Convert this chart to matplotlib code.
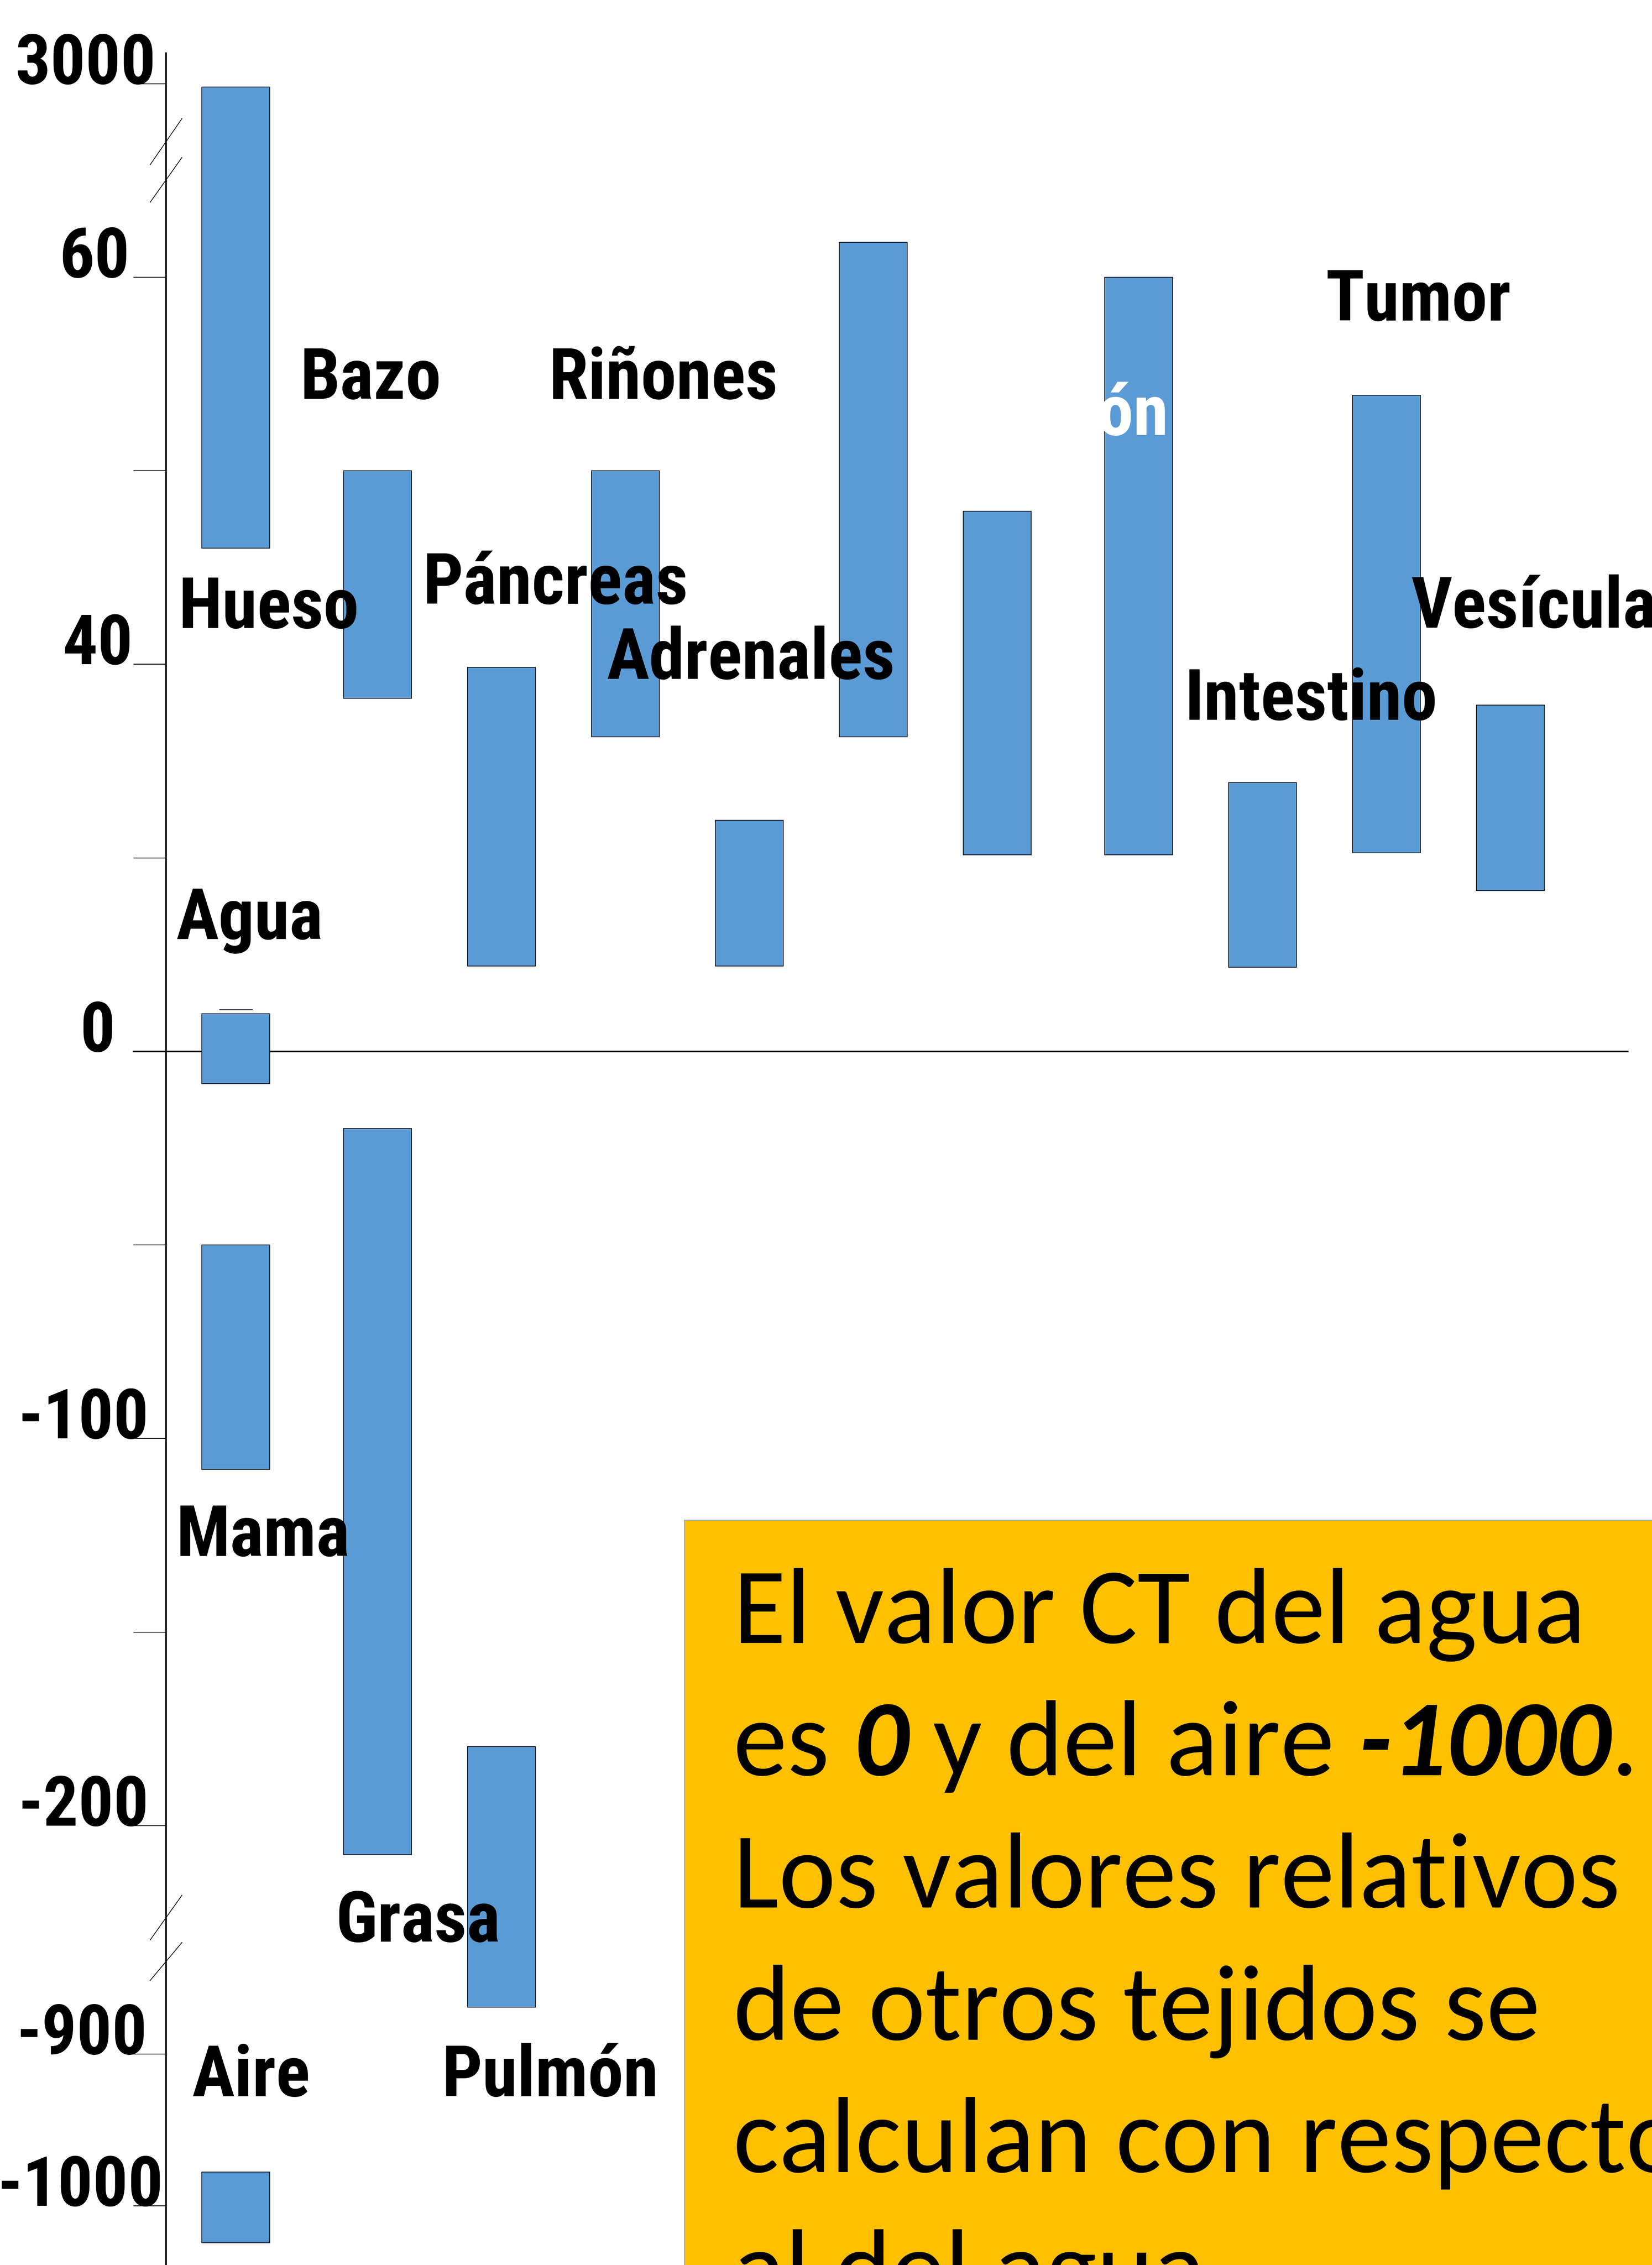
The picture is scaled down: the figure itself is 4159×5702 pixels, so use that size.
import numpy as np
import matplotlib
matplotlib.use("Agg")
import matplotlib.pyplot as plt
from matplotlib.patches import Rectangle
from matplotlib.font_manager import FontProperties, fontManager, weight_dict

# CT number ranges (HU) for each tissue, drawn as floating bars
tissue = ["Hueso", "Bazo", "Páncreas", "Riñones", "Adrenales", "", "", "Corazón",
          "Intestino", "Tumor", "Vesícula", "Agua", "Mama", "Grasa", "Pulmón", "Aire"]
column = [0, 1, 2, 3, 4, 5, 6, 7, 8, 9, 10, 0, 0, 1, 2, 0]
hu_low = [46, 36.5, 8.8, 32.5, 8.8, 32.5, 20.3, 20.3, 8.7, 20.5, 16.6,
          -8.3, -108, -207.5, -790, -1024.5]
hu_high = [2900, 50, 39.7, 50, 23.9, 61.8, 47.9, 60, 27.8, 53.9, 35.8,
           3.9, -50, -19.9, -179.6, -977.7]
water_mark = 4.3

tick_values = [3000, 60, 50, 40, 20, 0, -50, -100, -150, -200, -900, -1000]
tick_labels = ["3000", "60", "", "40", "", "0", "", "-100", "", "-200", "-900", "-1000"]

note_lines = ["El valor CT del agua",
              None,
              "Los valores relativos",
              "de otros tejidos se",
              "calculan con respecto",
              "al del agua."]
note_line2 = [("es", "r"), ("0", "bi"), ("y del aire", "r"), ("-1000", "bi"), (".", "r")]

# broken axis: piecewise-linear mapping HU -> slot (one slot per tick step)
hu_knots = np.array([-1100, -1000, -900, -880, -220, -200, -100, 0, 40, 60, 65, 3000, 4000])
slot_knots = np.array([-6.748, -5.964, -5.18, -5.023, -4.4, -4, -2, 0, 2, 4, 4.5, 5, 5.17])


def forward(v):
    return np.interp(v, hu_knots, slot_knots)


def inverse(s):
    return np.interp(s, slot_knots, hu_knots)


# label anchors (x in column units, baseline in slots)
label_pos = {
    "Hueso": (-0.462, 2.187), "Bazo": (0.520, 3.372), "Riñones": (2.524, 3.372),
    "Páncreas": (1.510, 2.312), "Adrenales": (2.991, 1.924), "Tumor": (8.795, 3.775),
    "Vesícula": (9.482, 2.190), "Intestino": (7.657, 1.713), "Agua": (-0.483, 0.581),
    "Mama": (-0.483, -2.606), "Grasa": (0.807, -4.599), "Aire": (-0.355, -5.397),
    "Pulmón": (1.662, -5.397), "Corazón": (7.525, 3.185),
}
tick_label_x = [-0.645, -0.857, 0, -0.832, 0, -0.972, 0, -0.704, 0, -0.704, -0.716, -0.585]

W, H = 4159, 5702
BLUE = "#5B9BD5"


def weight_num(w):
    return weight_dict.get(w, 400) if isinstance(w, str) else int(w)


# bold narrow face for labels: pick the actual bold file so the weight is honoured
lab_font = tick_font = None
for fam in ["Archivo Narrow", "Roboto Condensed", "PT Sans Narrow", "Liberation Sans"]:
    faces = [f for f in fontManager.ttflist
             if f.name == fam and f.style == "normal" and weight_num(f.weight) >= 600]
    if faces:
        face = min(faces, key=lambda f: abs(weight_num(f.weight) - 700))
        lab_font = FontProperties(fname=face.fname, size=129)
        tick_font = FontProperties(fname=face.fname, size=126)
        break
if lab_font is None:
    lab_font = FontProperties(family="DejaVu Sans", weight="bold", size=115)
    tick_font = lab_font

installed = {f.name for f in fontManager.ttflist}
box_family = next(f for f in ["Carlito", "Calibri", "Lato"] if f in installed)

fig = plt.figure(figsize=(W / 100, H / 100), dpi=100)
fig.patch.set_facecolor("white")
ax = fig.add_axes([418 / W, 0, 1 - 418 / W, 1 - 134 / H])
ax.set_yscale("function", functions=(forward, inverse))
ax.set_xlim(-0.564, 11.429)
ax.set_ylim(inverse(-6.27), inverse(5.157))

col = np.array(column)
xpos = col + 0.143 * (col >= 1) + 0.143 * (col >= 7)
low = np.array(hu_low)
high = np.array(hu_high)
ax.bar(xpos, high - low, bottom=low, width=0.548, color=BLUE,
       edgecolor="black", linewidth=1.2, zorder=3)
ax.hlines(water_mark, xpos[11] - 0.134, xpos[11] + 0.134, color="black",
          linewidth=1.4, zorder=3)

# zero line
ax.hlines(0, -0.832, 11.24, color="black", linewidth=2.9, clip_on=False, zorder=1)

for side in ["top", "right", "bottom"]:
    ax.spines[side].set_visible(False)
ax.spines["left"].set_linewidth(2.9)
ax.set_xticks([])
ax.set_yticks(tick_values)
ax.set_yticklabels([])
ax.yaxis.set_minor_locator(matplotlib.ticker.NullLocator())
ax.tick_params(axis="y", direction="out", length=59, width=1.44, color="black")

for v, txt, tx in zip(tick_values, tick_labels, tick_label_x):
    if txt:
        ax.text(tx, v, txt, ha="right", va="baseline", fontproperties=tick_font,
                clip_on=False)

# axis break marks
for s0, s1 in [(4.581, 4.819), (4.387, 4.618), (-4.591, -4.360), (-4.800, -4.604)]:
    ax.plot([-0.692, -0.436], inverse(np.array([s0, s1])), color="black",
            linewidth=1.3, clip_on=False, zorder=4)

for name in tissue:
    if not name:
        continue
    lx, ls = label_pos[name]
    white = name == "Corazón"
    ax.text(lx, inverse(ls), name, ha="right" if white else "left", va="baseline",
            fontproperties=lab_font, color="white" if white else "black", zorder=5)

# note box
fig.add_artist(Rectangle((1723 / W, -0.05), 1.0, 1 - 3827 / H + 0.05,
                         transform=fig.transFigure, facecolor="#FFC000",
                         edgecolor="#8FAADC", linewidth=1.5, zorder=6))

renderer = fig.canvas.get_renderer()


def text_width(s, **kw):
    t = fig.text(0, 0, s, family=box_family, **kw)
    w = t.get_window_extent(renderer).width
    t.remove()
    return w


fit = sum(text_width(s, fontsize=100) for s in note_lines[0:1] + note_lines[2:4])
fs = 100 * (2124 + 2263 + 2023) / fit
space = text_width("x x", fontsize=fs) - text_width("xx", fontsize=fs)
styles = {"r": dict(), "bi": dict(fontweight="bold", fontstyle="italic")}

x0 = 1846
for i, line in enumerate(note_lines):
    yb = 1 - (4136 + 333 * i) / H
    if line is not None:
        fig.text(x0 / W, yb, line, family=box_family, fontsize=fs, va="baseline",
                 ha="left", zorder=7)
        continue
    x = x0
    for j, (piece, st) in enumerate(note_line2):
        fig.text(x / W, yb, piece, family=box_family, fontsize=fs, va="baseline",
                 ha="left", zorder=7, **styles[st])
        x += text_width(piece, fontsize=fs, **styles[st])
        if j + 1 < len(note_line2) and note_line2[j + 1][0] != ".":
            x += space

fig.savefig("out.png", dpi=100, facecolor="white")
